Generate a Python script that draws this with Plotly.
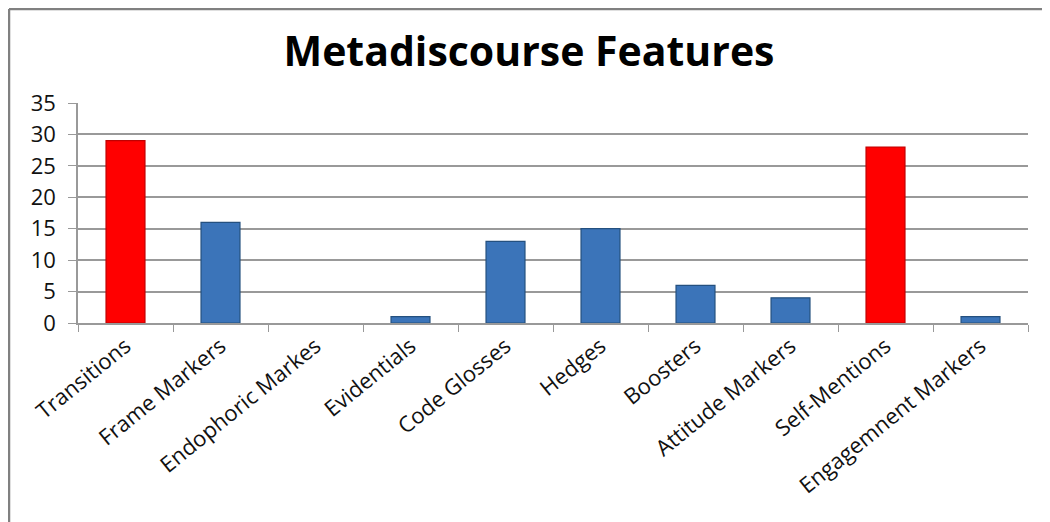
import plotly.graph_objects as go

categories = ["Transitions", "Frame Markers", "Endophoric Markes", "Evidentials",
              "Code Glosses", "Hedges", "Boosters", "Attitude Markers",
              "Self-Mentions", "Engagemnent Markers"]
values = [29, 16, 0, 1, 13, 15, 6, 4, 28, 1]
highlight = ["Transitions", "Self-Mentions"]
y_ticks = [0, 5, 10, 15, 20, 25, 30, 35]
title_text = "Metadiscourse Features"

colors = ["#FF0000" if c in highlight else "#3B74B9" for c in categories]
edges = ["#C00000" if c in highlight else "#24507F" for c in categories]
edge_w = [1.2 if v > 0 else 0 for v in values]

W, H = 1042, 514  # page body has an 8px default margin
fig = go.Figure(go.Bar(
    x=categories, y=values,
    marker=dict(color=colors, line=dict(color=edges, width=edge_w)),
    width=0.41,
))

fig.update_layout(
    width=W, height=H,
    paper_bgcolor="white", plot_bgcolor="white",
    margin=dict(l=70, r=22, t=95, b=199),
    showlegend=False,
    title=dict(text="<b>" + title_text + "</b>", x=0.5, xanchor="center",
               y=1 - 44 / H, yanchor="middle",
               font=dict(family="Open Sans", size=41, color="black")),
    font=dict(family="Open Sans", color="#111"),
)
fig.update_xaxes(
    type="category", tickangle=-39, tickson="boundaries",
    ticks="outside", ticklen=7, tickcolor="#999",
    showline=True, linecolor="#999", linewidth=1.5,
    tickfont=dict(size=22, family="Open Sans", color="#111"),
    showgrid=False,
)
fig.update_yaxes(
    range=[0, 35], tickvals=y_ticks, ticks="outside", ticklen=8,
    ticklabelstandoff=8,
    tickcolor="#999", showline=True, linecolor="#999", linewidth=1.5,
    showgrid=True, gridcolor="#999", gridwidth=1.5, zeroline=False,
    tickfont=dict(size=22, family="Open Sans", color="#111"),
)
# outer frame (left and top edges visible)
fig.add_shape(type="line", xref="paper", yref="paper",
              x0=-69 / 950, x1=-69 / 950, y0=-1, y1=(H - 1 - 199) / 220,
              line=dict(color="#808080", width=2.5))
fig.add_shape(type="line", xref="paper", yref="paper",
              x0=-69 / 950, x1=2, y0=(H - 1 - 199) / 220, y1=(H - 1 - 199) / 220,
              line=dict(color="#808080", width=2.5))

fig.write_html("out.html")
